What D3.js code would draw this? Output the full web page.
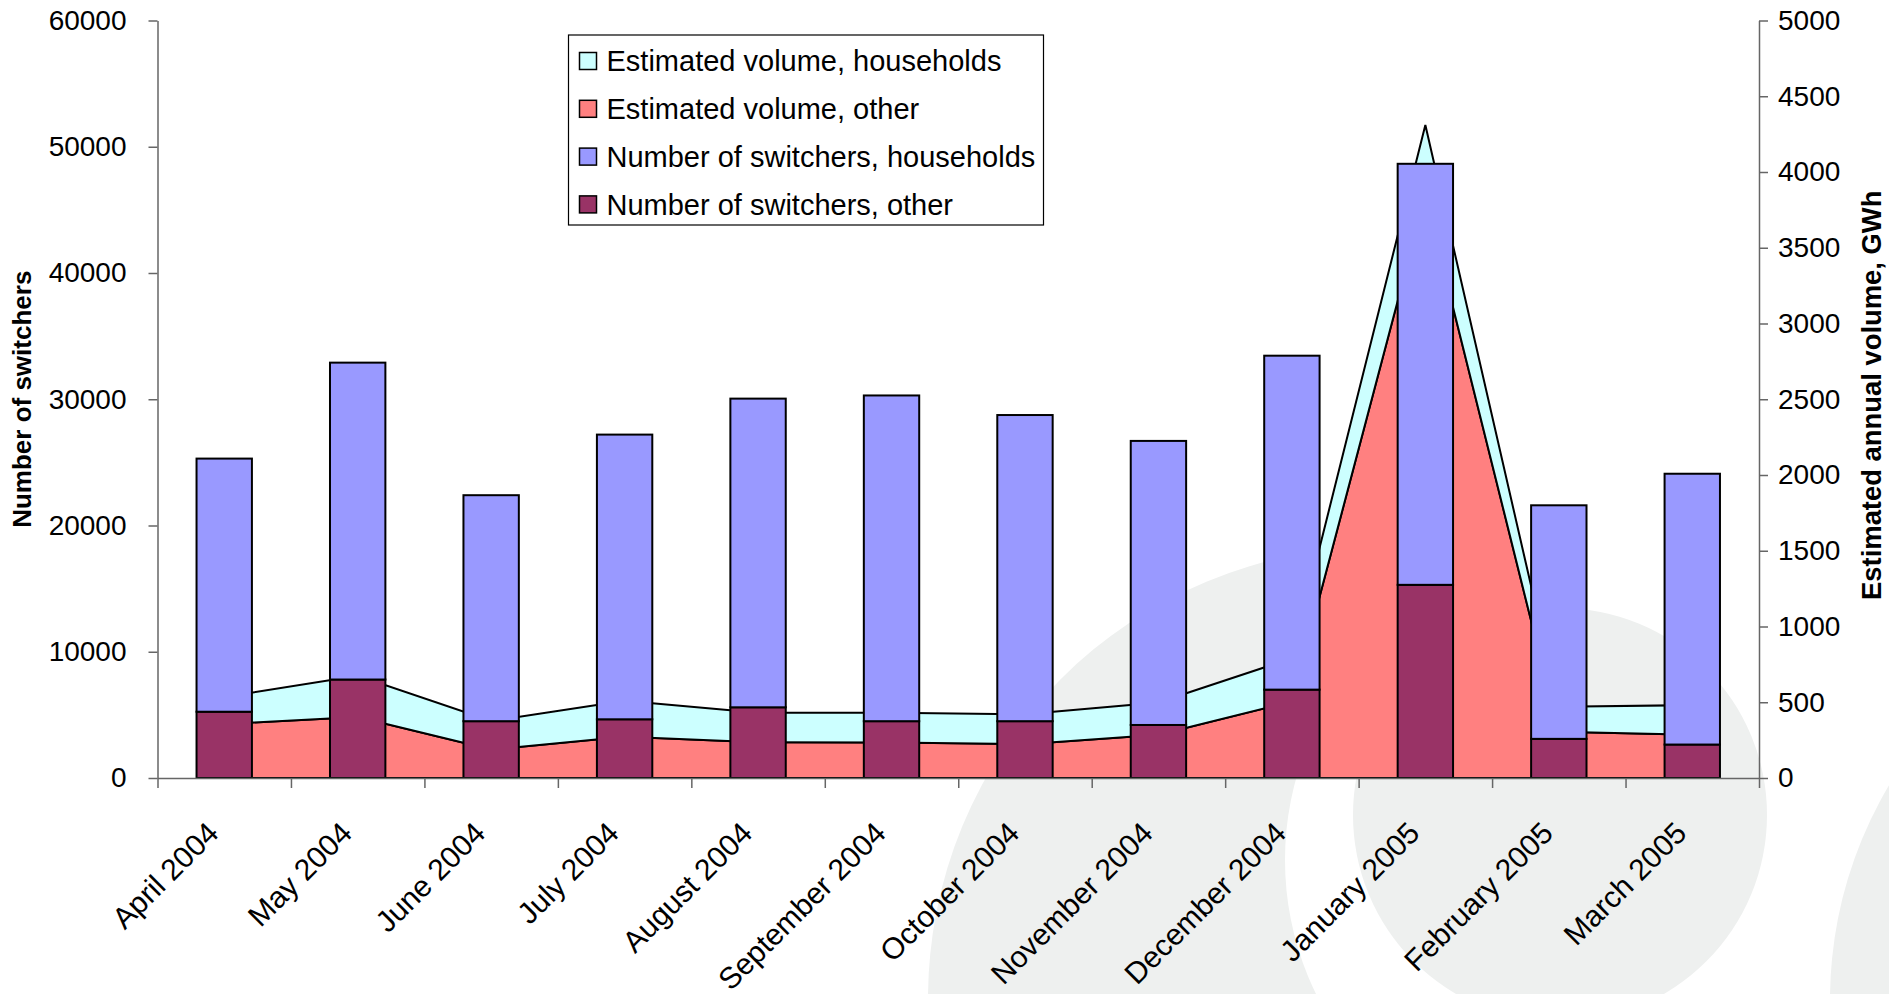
<!DOCTYPE html>
<html>
<head>
<meta charset="utf-8">
<script src="https://cdn.jsdelivr.net/npm/d3@7"></script>
<style>
  html, body { margin: 0; padding: 0; background: #fff; }
  svg { display: block; }
  text { font-family: "Liberation Sans", Arial, sans-serif; fill: #000; }
</style>
</head>
<body>
<svg id="chart" width="1889" height="994"></svg>
<script>
// Monthly supplier switching, April 2004 - March 2005
const months = ["April 2004", "May 2004", "June 2004", "July 2004", "August 2004",
  "September 2004", "October 2004", "November 2004", "December 2004",
  "January 2005", "February 2005", "March 2005"];

// Number of switchers (left axis)
const switchersOther      = [5250, 7800, 4500, 4650, 5600, 4500, 4500, 4200, 7000, 15300, 3100, 2650];
const switchersHouseholds = [20050, 25100, 17900, 22550, 24450, 25800, 24250, 22500, 26450, 33350, 18500, 21450];

// Estimated annual volume of switched customers, GWh (right axis)
const volumeOther      = [356, 403, 188, 273, 236, 235, 223, 286, 505, 3840, 305, 286];
const volumeHouseholds = [179, 272, 188, 237, 194, 196, 197, 212, 285, 470, 165, 195];

const leftTicks  = [0, 10000, 20000, 30000, 40000, 50000, 60000];
const rightTicks = [0, 500, 1000, 1500, 2000, 2500, 3000, 3500, 4000, 4500, 5000];

const legendItems = [
  { label: "Estimated volume, households",    color: "#CCFFFF" },
  { label: "Estimated volume, other",         color: "#FF8080" },
  { label: "Number of switchers, households", color: "#9999FF" },
  { label: "Number of switchers, other",      color: "#993366" }
];

const colors = {
  volHouse: "#CCFFFF", volOther: "#FF8080",
  swHouse: "#9999FF", swOther: "#993366",
  axis: "#666666", backdrop: "#eef0ef"
};

const svg = d3.select("#chart");
const plot = { left: 157.5, right: 1759, top: 20.5, bottom: 778 };

// faint circular logo behind the chart
const backdrop = svg.append("g");
[
  { cx: 1380, cy: 999, r: 452, fill: colors.backdrop },
  { cx: 1590, cy: 860, r: 305, fill: "#ffffff" },
  { cx: 1560, cy: 815, r: 207, fill: colors.backdrop },
  { cx: 2250, cy: 1000, r: 420, fill: colors.backdrop }
].forEach(c => backdrop.append("circle")
  .attr("cx", c.cx).attr("cy", c.cy).attr("r", c.r).attr("fill", c.fill));

// scales
const xCat = d3.scaleBand().domain(months).range([plot.left, plot.right]).padding(0);
const xBar = d3.scaleBand().domain(months).range([plot.left, plot.right])
  .paddingInner(0.585).paddingOuter(0.2925);
const xEdge = d3.scaleLinear().domain([0, months.length]).range([plot.left, plot.right]);
const yL = d3.scaleLinear().domain([0, 60000]).range([plot.bottom, plot.top]);
const yR = d3.scaleLinear().domain([0, 5000]).range([plot.bottom, plot.top]);
const cx = m => xCat(m) + xCat.bandwidth() / 2;

// stacked areas: estimated volume (secondary axis)
const volRows = months.map((m, i) => ({ month: m, other: volumeOther[i], households: volumeHouseholds[i] }));
const volStack = d3.stack().keys(["other", "households"])(volRows);
const area = d3.area()
  .x(d => cx(d.data.month))
  .y0(d => yR(d[0]))
  .y1(d => yR(d[1]));
const areaColor = { other: colors.volOther, households: colors.volHouse };
svg.append("g").selectAll("path")
  .data(volStack)
  .join("path")
  .attr("d", area)
  .attr("fill", d => areaColor[d.key])
  .attr("stroke", "#000")
  .attr("stroke-width", 2)
  .attr("stroke-linejoin", "miter");

// stacked bars: number of switchers (primary axis)
const swRows = months.map((m, i) => ({ month: m, other: switchersOther[i], households: switchersHouseholds[i] }));
const swStack = d3.stack().keys(["other", "households"])(swRows);
const barColor = { other: colors.swOther, households: colors.swHouse };
svg.append("g").selectAll("g")
  .data(swStack)
  .join("g")
  .attr("fill", d => barColor[d.key])
  .selectAll("rect")
  .data(d => d)
  .join("rect")
  .attr("x", d => xBar(d.data.month))
  .attr("width", xBar.bandwidth())
  .attr("y", d => yL(d[1]))
  .attr("height", d => yL(d[0]) - yL(d[1]))
  .attr("stroke", "#000")
  .attr("stroke-width", 2);

// axes
const fontTick = 28;
const gL = svg.append("g").attr("transform", `translate(${plot.left},0)`)
  .call(d3.axisLeft(yL).tickValues(leftTicks).tickSize(9).tickSizeOuter(0).tickPadding(22).tickFormat(d3.format("d")));
const gR = svg.append("g").attr("transform", `translate(${plot.right},0)`)
  .call(d3.axisRight(yR).tickValues(rightTicks).tickSize(9).tickSizeOuter(0).tickPadding(10).tickFormat(d3.format("d")));
const gX = svg.append("g").attr("transform", `translate(0,${plot.bottom})`)
  .call(d3.axisBottom(xEdge).tickValues(d3.range(months.length + 1)).tickSize(10).tickSizeOuter(0).tickFormat(""));
[gL, gR, gX].forEach(g => {
  g.selectAll("path.domain").attr("stroke", colors.axis).attr("stroke-width", 1.5);
  g.selectAll(".tick line").attr("stroke", colors.axis).attr("stroke-width", 1.5);
  g.selectAll(".tick text").attr("font-size", fontTick)
    .attr("font-family", '"Liberation Sans", Arial, sans-serif').attr("fill", "#000");
});

// category labels, rotated
svg.append("g").selectAll("text")
  .data(months)
  .join("text")
  .attr("transform", m => `translate(${cx(m) - 4},${plot.bottom + 57}) rotate(-45)`)
  .attr("text-anchor", "end")
  .attr("font-size", 30)
  .text(m => m);

// axis titles
svg.append("text")
  .attr("transform", `translate(22,${(plot.top + plot.bottom) / 2}) rotate(-90)`)
  .attr("text-anchor", "middle")
  .attr("dominant-baseline", "central")
  .attr("font-size", 26).attr("font-weight", "bold")
  .text("Number of switchers");
svg.append("text")
  .attr("transform", `translate(1871,${(plot.top + plot.bottom) / 2 - 4}) rotate(-90)`)
  .attr("text-anchor", "middle")
  .attr("dominant-baseline", "central")
  .attr("font-size", 27.4).attr("font-weight", "bold")
  .text("Estimated annual volume, GWh");

// legend
const lg = svg.append("g").attr("transform", "translate(568.5,35)");
lg.append("rect").attr("width", 475).attr("height", 190)
  .attr("fill", "#fff").attr("stroke", "#000").attr("stroke-width", 1.2);
const rows = lg.selectAll("g").data(legendItems).join("g")
  .attr("transform", (d, i) => `translate(0,${26 + i * 47.8})`);
rows.append("rect").attr("x", 11).attr("y", -8.5).attr("width", 17).attr("height", 17)
  .attr("fill", d => d.color).attr("stroke", "#000").attr("stroke-width", 1.5);
rows.append("text").attr("x", 38).attr("dy", "0.35em")
  .attr("font-size", 29).text(d => d.label);
</script>
</body>
</html>
